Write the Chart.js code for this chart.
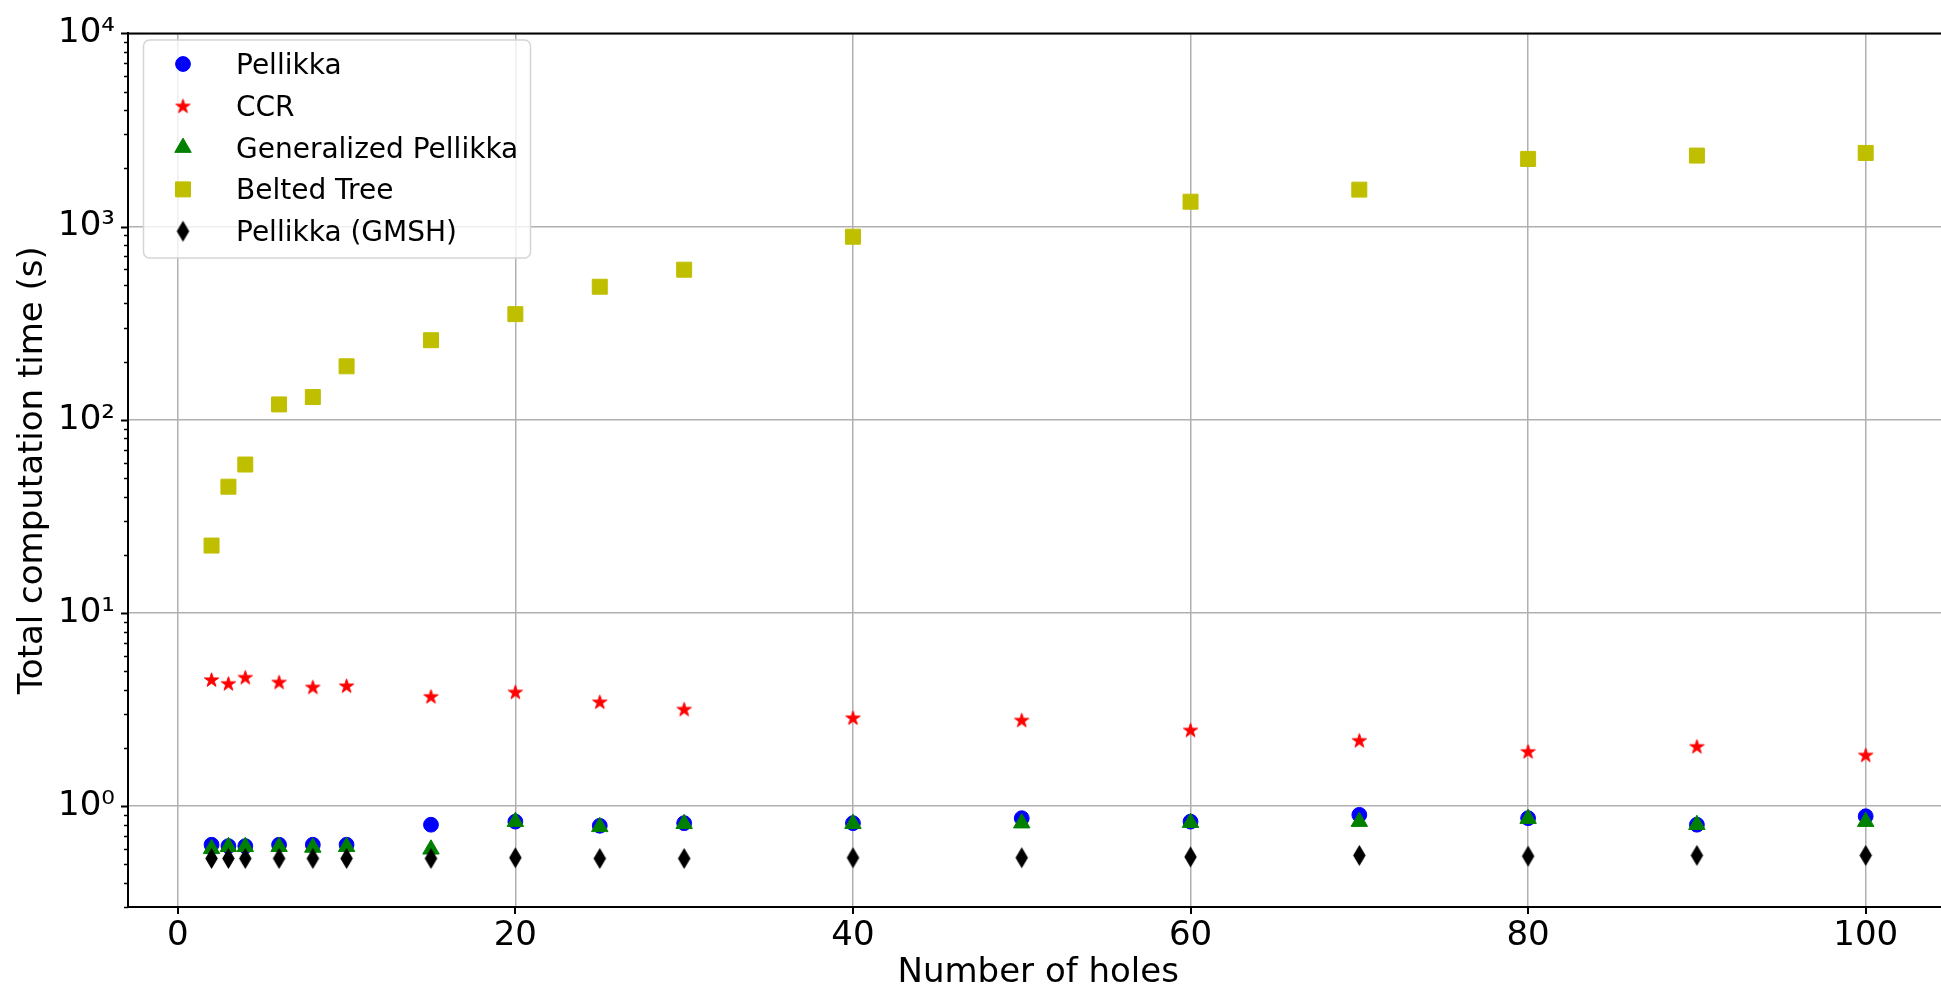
<!DOCTYPE html>
<html>
<head>
<meta charset="utf-8">
<script src="https://cdn.jsdelivr.net/npm/chart.js@4.4.1/dist/chart.umd.min.js"></script>
<style>
  html, body { margin: 0; padding: 0; background: #fff; overflow: hidden; }
  #wrap { position: absolute; left: 0; top: 0; width: 1960px; height: 988px; }
</style>
</head>
<body>
<div id="wrap"><canvas id="timeChart" width="1960" height="988"></canvas></div>
<script>
// Number of holes (x values)
const holes = [2, 3, 4, 6, 8, 10, 15, 20, 25, 30, 40, 50, 60, 70, 80, 90, 100]
const beltedHoles = [2, 3, 4, 6, 8, 10, 15, 20, 25, 30, 40, 60, 70, 80, 90, 100]

// Total computation time (s)
const pellikka = [0.63, 0.62, 0.62, 0.63, 0.63, 0.63, 0.80, 0.83, 0.79, 0.815, 0.815, 0.865, 0.83, 0.90, 0.865, 0.80, 0.885]
const ccr = [4.52, 4.32, 4.65, 4.39, 4.14, 4.2, 3.7, 3.9, 3.47, 3.18, 2.87, 2.79, 2.48, 2.19, 1.92, 2.04, 1.84]
const genPellikka = [0.60, 0.615, 0.615, 0.615, 0.61, 0.615, 0.597, 0.83, 0.78, 0.81, 0.81, 0.815, 0.82, 0.83, 0.86, 0.80, 0.83]
const beltedTree = [22.3, 45, 58.6, 120, 131, 189, 258, 352, 488, 598, 886, 1345, 1553, 2240, 2330, 2405]
const pellikkaGmsh = [0.535, 0.535, 0.535, 0.535, 0.535, 0.535, 0.535, 0.54, 0.535, 0.535, 0.54, 0.54, 0.545, 0.555, 0.55, 0.555, 0.555]

// Tick labels
const xTicks = [0, 20, 40, 60, 80, 100]
const yMajor = [1, 10, 100, 1000, 10000]
const yTickLabels = { 1: '10⁰', 10: '10¹', 100: '10²', 1000: '10³', 10000: '10⁴' }

const FONT = 'DejaVu Sans'

// minor log ticks (2..9 x 10^n) plus the partial decade below 1
const yTicks = [0.3, 0.4, 0.5, 0.6, 0.7, 0.8, 0.9]
yMajor.forEach(function (m) {
    yTicks.push(m)
    if (m < 10000) {
        for (let k = 2; k <= 9; k++) yTicks.push(m * k)
    }
})

function toPoints(xs, ys) {
    return xs.map((x, i) => ({ x: x, y: ys[i] }))
}

// filled star marker (matplotlib '*')
function starMarker(color, r) {
    const c = document.createElement('canvas')
    const s = Math.ceil(r * 2 + 4)
    c.width = s
    c.height = s
    const g = c.getContext('2d')
    g.translate(s / 2, s / 2 + 0.8)
    g.beginPath()
    for (let i = 0; i < 10; i++) {
        const rad = i % 2 ? r * 0.382 : r
        const a = -Math.PI / 2 + i * Math.PI / 5
        g.lineTo(rad * Math.cos(a), rad * Math.sin(a))
    }
    g.closePath()
    g.fillStyle = color
    g.fill()
    g.strokeStyle = color
    g.lineWidth = 1
    g.stroke()
    return c
}

// thin diamond marker (matplotlib 'd')
function diamondMarker(color, w, h) {
    const c = document.createElement('canvas')
    c.width = Math.ceil(w + 2)
    c.height = Math.ceil(h + 2)
    const g = c.getContext('2d')
    g.translate(c.width / 2, c.height / 2)
    g.beginPath()
    g.moveTo(0, -h / 2)
    g.lineTo(w / 2, 0)
    g.lineTo(0, h / 2)
    g.lineTo(-w / 2, 0)
    g.closePath()
    g.fillStyle = color
    g.fill()
    return c
}

const starImg = starMarker('#ff0000', 7.5)
const diamondImg = diamondMarker('#000000', 12.5, 21)

const series = [
    { label: 'Pellikka', xs: holes, ys: pellikka, color: '#0000ff', style: 'circle', radius: 7.4 },
    { label: 'CCR', xs: holes, ys: ccr, color: '#ff0000', style: starImg, radius: 8 },
    { label: 'Generalized Pellikka', xs: holes, ys: genPellikka, color: '#008000', style: 'triangle', radius: 9.5 },
    { label: 'Belted Tree', xs: beltedHoles, ys: beltedTree, color: '#bfbf00', style: 'rect', radius: 10.6 },
    { label: 'Pellikka (GMSH)', xs: holes, ys: pellikkaGmsh, color: '#000000', style: diamondImg, radius: 10 }
]

// spines, tick marks and the legend box
const decorPlugin = {
    id: 'decor',
    afterDraw(chart) {
        const ctx = chart.ctx
        const area = chart.chartArea
        const xs = chart.scales.x
        const ys = chart.scales.y
        ctx.save()

        // top spine
        ctx.strokeStyle = '#000'
        ctx.lineWidth = 2
        ctx.beginPath()
        ctx.moveTo(area.left - 1, area.top)
        ctx.lineTo(area.right, area.top)
        ctx.stroke()

        // y tick marks
        ys.ticks.forEach(function (t) {
            const y = Math.round(ys.getPixelForValue(t.value)) + 0.5
            const len = t.major ? 7 : 4
            ctx.lineWidth = t.major ? 2 : 1.5
            ctx.beginPath()
            ctx.moveTo(area.left - len, y)
            ctx.lineTo(area.left, y)
            ctx.stroke()
        })
        // x tick marks
        ctx.lineWidth = 2
        xs.ticks.forEach(function (t) {
            const x = Math.round(xs.getPixelForValue(t.value))
            ctx.beginPath()
            ctx.moveTo(x, area.bottom)
            ctx.lineTo(x, area.bottom + 7)
            ctx.stroke()
        })

        // legend
        const bx = 143.5, by = 40, bw = 387, bh = 218, r = 6
        ctx.beginPath()
        ctx.moveTo(bx + r, by)
        ctx.arcTo(bx + bw, by, bx + bw, by + bh, r)
        ctx.arcTo(bx + bw, by + bh, bx, by + bh, r)
        ctx.arcTo(bx, by + bh, bx, by, r)
        ctx.arcTo(bx, by, bx + bw, by, r)
        ctx.closePath()
        ctx.fillStyle = 'rgba(255,255,255,0.8)'
        ctx.fill()
        ctx.strokeStyle = '#d5d5d5'
        ctx.lineWidth = 1.5
        ctx.stroke()

        ctx.font = '28px "' + FONT + '"'
        ctx.textBaseline = 'alphabetic'
        ctx.textAlign = 'left'
        series.forEach(function (s, i) {
            const cy = 64 + i * 41.8
            const cx = 183
            drawMarker(ctx, s, cx, cy)
            ctx.fillStyle = '#000'
            ctx.fillText(s.label, 236, cy + 10)
        })
        ctx.restore()
    }
}

function drawMarker(ctx, s, x, y) {
    ctx.fillStyle = s.color
    ctx.strokeStyle = s.color
    ctx.lineWidth = 1
    const r = s.radius
    if (typeof s.style !== 'string') {
        ctx.drawImage(s.style, x - s.style.width / 2, y - s.style.height / 2)
        return
    }
    ctx.beginPath()
    if (s.style === 'circle') {
        ctx.arc(x, y, r, 0, Math.PI * 2)
    } else if (s.style === 'triangle') {
        const w = r * Math.sin(Math.PI / 3)
        ctx.moveTo(x, y - r)
        ctx.lineTo(x + w, y + r / 2)
        ctx.lineTo(x - w, y + r / 2)
    } else if (s.style === 'rect') {
        const h = r * Math.SQRT1_2
        ctx.rect(x - h, y - h, 2 * h, 2 * h)
    }
    ctx.closePath()
    ctx.fill()
    ctx.stroke()
}

document.addEventListener('DOMContentLoaded', function () {
    const canvas = document.getElementById('timeChart')

    new Chart(canvas, {
        type: 'scatter',
        data: {
            datasets: series.map((s, i) => ({
                label: s.label,
                data: toPoints(s.xs, s.ys),
                pointStyle: s.style,
                pointRadius: s.radius,
                pointBorderWidth: 1,
                pointBackgroundColor: s.color,
                pointBorderColor: s.color,
                showLine: false,
                order: series.length - i
            }))
        },
        options: {
            responsive: false,
            animation: false,
            events: [],
            layout: { padding: { left: 0, top: 27, right: 5, bottom: 0 } },
            plugins: {
                legend: { display: false },
                tooltip: { enabled: false }
            },
            scales: {
                x: {
                    type: 'linear',
                    min: -2.95,
                    max: 104.9,
                    afterBuildTicks: function (scale) {
                        scale.ticks = xTicks.map(v => ({ value: v }))
                    },
                    afterFit: function (scale) { scale.height = 81 },
                    ticks: {
                        autoSkip: false,
                        maxRotation: 0,
                        padding: 9,
                        color: '#000',
                        font: { family: FONT, size: 34 },
                        callback: v => String(v)
                    },
                    grid: { color: '#b0b0b0', lineWidth: 1.5, drawTicks: false },
                    border: { color: '#000', width: 2 },
                    title: {
                        display: true,
                        text: 'Number of holes',
                        color: '#000',
                        font: { family: FONT, size: 34, lineHeight: 0.8 },
                        padding: { top: 0, bottom: 1 }
                    }
                },
                y: {
                    type: 'logarithmic',
                    min: 0.3,
                    max: 10000,
                    afterBuildTicks: function (scale) {
                        scale.ticks = yTicks.map(v => ({ value: v, major: yMajor.includes(v) }))
                    },
                    afterFit: function (scale) { scale.width = 128 },
                    ticks: {
                        autoSkip: false,
                        padding: 13,
                        color: '#000',
                        font: { family: FONT, size: 34 },
                        callback: v => yTickLabels[v] || ''
                    },
                    grid: {
                        drawTicks: false,
                        lineWidth: 1.5,
                        color: c => (c.tick && c.tick.major) ? '#b0b0b0' : 'rgba(0,0,0,0)'
                    },
                    border: { color: '#000', width: 2 },
                    title: {
                        display: true,
                        text: 'Total computation time (s)',
                        color: '#000',
                        font: { family: FONT, size: 34, lineHeight: 1 },
                        padding: { top: 16, bottom: 0 }
                    }
                }
            }
        },
        plugins: [decorPlugin]
    })
})
</script>
</body>
</html>
